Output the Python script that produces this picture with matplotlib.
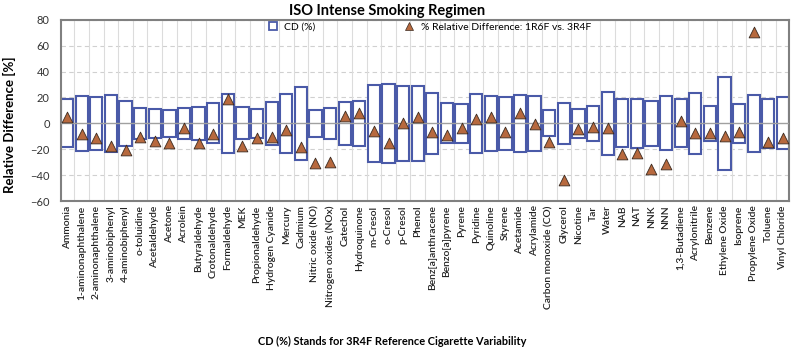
import numpy as np
import matplotlib
matplotlib.use("Agg")
import matplotlib.pyplot as plt
from matplotlib.lines import Line2D

plt.rcParams['font.family'] = ['Lato', 'DejaVu Sans']

compounds = [
    "Ammonia", "1-aminonaphthalene", "2-aminonaphthalene", "3-aminobiphenyl",
    "4-aminobiphenyl", "o-toluidine", "Acetaldehyde", "Acetone", "Acrolein",
    "Butyraldehyde", "Crotonaldehyde", "Formaldehyde", "MEK", "Propionaldehyde",
    "Hydrogen Cyanide", "Mercury", "Cadmium", "Nitric oxide (NO)",
    "Nitrogen oxides (NOx)", "Catechol", "Hydroquinone", "m-Cresol", "o-Cresol",
    "p-Cresol", "Phenol", "Benz[a]anthracene", "Benzo[a]pyrene", "Pyrene",
    "Pyridine", "Quinoline", "Styrene", "Acetamide", "Acrylamide",
    "Carbon monoxide (CO)", "Glycerol", "Nicotine", "Tar", "Water", "NAB", "NAT",
    "NNK", "NNN", "1,3-Butadiene", "Acrylonitrile", "Benzene", "Ethylene Oxide",
    "Isoprene", "Propylene Oxide", "Toluene", "Vinyl Chloride",
]

# CD (%) - 3R4F reference variability (box spans -CD..+CD)
cd = [
    18.5, 21.2, 20.2, 22.3, 17.4, 11.8, 11.2, 10.5, 12.0, 13.0,
    15.4, 22.8, 12.3, 11.2, 16.6, 22.8, 27.9, 10.5, 12.0, 16.6,
    17.4, 29.5, 30.2, 29.2, 28.9, 23.3, 15.4, 15.1, 22.5, 21.5,
    20.5, 21.8, 21.2, 10.0, 15.9, 11.2, 13.8, 24.6, 18.5, 19.2,
    17.4, 20.8, 18.5, 23.5, 13.8, 35.6, 14.8, 21.8, 19.2, 20.0,
]

# % relative difference 1R6F vs 3R4F
rel_diff = [
    5.0, -8.5, -11.0, -17.5, -20.5, -10.3, -13.4, -15.4, -3.9, -14.9,
    -8.5, 18.7, -17.2, -11.5, -10.3, -5.2, -18.2, -30.8, -30.0, 5.6,
    7.7, -5.9, -14.9, 0.5, 5.1, -6.4, -8.8, -3.9, 3.8, 5.1,
    -6.4, 7.7, -0.5, -14.1, -43.6, -4.4, -2.6, -3.9, -23.6, -22.6,
    -35.4, -31.5, 2.0, -7.2, -7.7, -9.8, -6.4, 70.2, -14.1, -11.3,
]

x = np.arange(len(compounds))
cd = np.array(cd)
width = 0.84

fig = plt.figure(figsize=(7.94, 3.5), dpi=100)
ax = fig.add_axes([0.0768, 0.4249, 0.917, 0.519])

ax.bar(x, 2 * cd, bottom=-cd, width=width, facecolor='white',
       edgecolor='#4a5aa8', linewidth=1.5, zorder=2)
ax.axhline(0, color='#a0a0a0', lw=1.0, zorder=3)
ax.scatter(x, rel_diff, marker='^', s=60, facecolor='#b7693e',
           edgecolor='#3a2a20', linewidth=0.6, zorder=4)

ax.set_xlim(-width / 2, len(compounds) - 1 + width / 2)
ax.set_ylim(-60, 80)
ax.set_yticks(np.arange(-60, 81, 20))
ax.set_xticks(x)
ax.set_xticklabels(compounds, rotation=90, fontsize=7.4, fontweight='semibold',
                   color='#222222')
ax.tick_params(axis='x', length=0, pad=3)
ax.tick_params(axis='y', length=0, pad=8, labelsize=8, labelcolor='#333333')

# gridlines
for yv in np.arange(-60, 81, 20):
    if yv != 0:
        ax.axhline(yv, color='#d0d0d0', lw=0.8, ls=(0, (4, 3)), zorder=1)
for xv in x[:-1] + 0.5:
    ax.axvline(xv, color='#dcdcdc', lw=0.8, zorder=1)

for s in ax.spines.values():
    s.set_color('#808080')
    s.set_linewidth(1.5)

handles = [
    Line2D([], [], marker='s', ls='none', markersize=6, markerfacecolor='white',
           markeredgecolor='#4a5aa8', markeredgewidth=1.3),
    Line2D([], [], marker='^', ls='none', markersize=6, markerfacecolor='#b7693e',
           markeredgecolor='#3a2a20', markeredgewidth=0.5),
]
ax.legend(handles, ['CD (%)', '% Relative Difference: 1R6F vs. 3R4F'],
          ncol=2, loc='upper center', bbox_to_anchor=(0.502, 1.02), frameon=False,
          fontsize=7.5, handletextpad=0.1, columnspacing=8, borderaxespad=0.2)

fig.text(0.487, 0.968, 'ISO Intense Smoking Regimen', ha='center', va='center',
         fontsize=10.5, fontweight='bold')
fig.text(0.012, 0.643, 'Relative Difference [%]', rotation=90,
         ha='center', va='center', fontsize=9.5, fontweight='bold')
fig.text(0.494, 0.025, 'CD (%) Stands for 3R4F Reference Cigarette Variability',
         ha='center', va='center', fontsize=7.9, fontweight='bold')

fig.savefig('out.png', dpi=100)
